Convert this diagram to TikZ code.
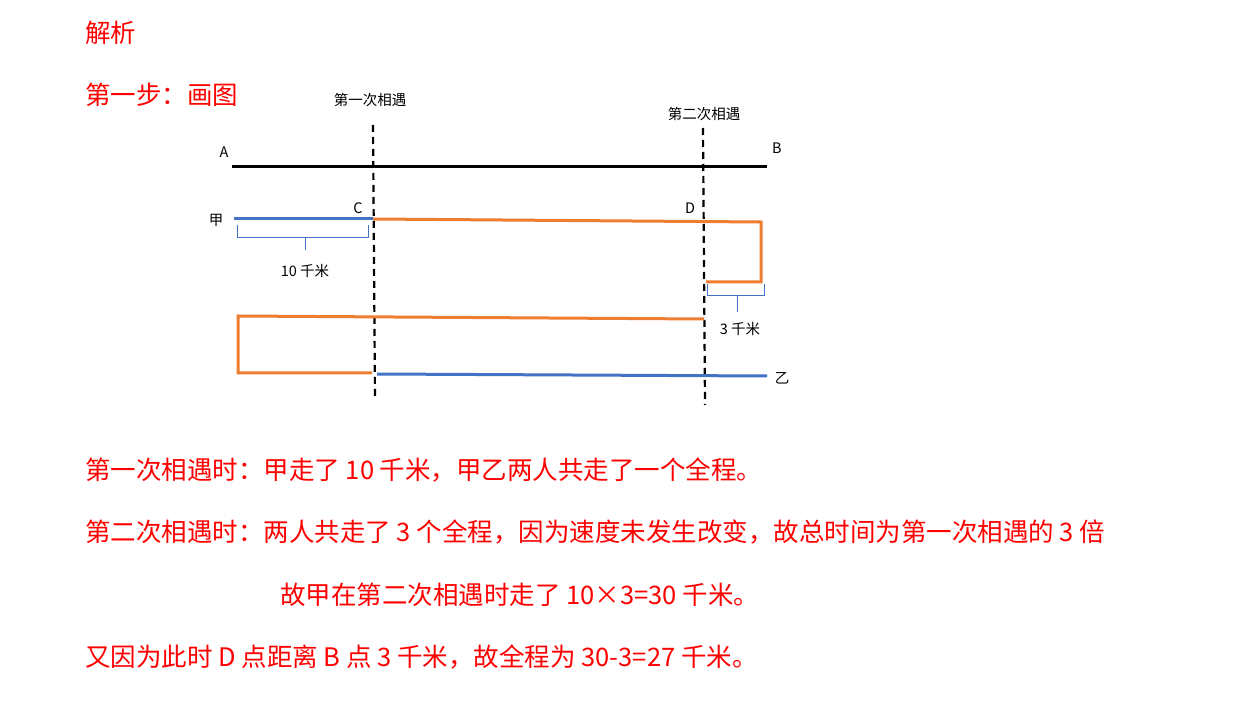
\documentclass[tikz,border=0pt]{standalone}
\usepackage{fontspec}
\setmainfont{Liberation Sans}
\newfontfamily\cjk{Noto Sans CJK SC}
\definecolor{myred}{RGB}{255,0,0}
\definecolor{myblue}{RGB}{68,114,196}
\definecolor{myorange}{RGB}{237,125,49}
\begin{document}
\begin{tikzpicture}[x=1pt,y=-1pt,
  redtxt/.style={text=myred,font=\cjk\fontsize{25.5}{28}\selectfont,anchor=west,inner sep=0pt},
  small/.style={font=\cjk\fontsize{14.5}{16}\selectfont,inner sep=0pt},
  dashln/.style={line width=2.2pt,dash pattern=on 7pt off 5pt},
  blueln/.style={myblue,line width=3pt},
  orln/.style={myorange,line width=3pt},
  brc/.style={myblue,line width=0.6pt}]
\useasboundingbox (0,0) rectangle (1234,708);
\node[redtxt] (t1) at (85,33) {解析};
\node[redtxt] (t2) at (85,95) {第一步：画图};
\node[small] (m1) at (370,100) {第一次相遇};
\node[small] (m2) at (704,114) {第二次相遇};
\coordinate (d1a) at (373,125); \coordinate (d1b) at (375,398);
\coordinate (d2a) at (703,128); \coordinate (d2b) at (705,405);
\draw[dashln] (d1a) -- (d1b);
\draw[dashln] (d2a) -- (d2b);
\node[small] (A) at (224,152) {A};
\node[small] (B) at (777,148) {B};
\coordinate (a) at (232,167); \coordinate (b) at (767,167);
\draw[line width=3pt] (a) -- (b);
\node[small] (jia) at (216,220) {甲};
\node[small] (C) at (358,208) {C};
\node[small] (D) at (690,208) {D};
\coordinate (p0) at (234,219); \coordinate (p1) at (373,219);
\draw[blueln] (p0) -- (p1);
\coordinate (p2) at (761,222); \coordinate (p3) at (761,282); \coordinate (p4) at (706,282);
\draw[orln,line join=miter] (p1) -- (p2) -- (p3) -- (p4);
\coordinate (q0) at (704,319); \coordinate (q1) at (238,316); \coordinate (q2) at (238,373); \coordinate (q3) at (372,373);
\draw[orln,line join=miter] (q0) -- (q1) -- (q2) -- (q3);
\coordinate (r0) at (377,374); \coordinate (r1) at (767,376);
\draw[blueln] (r0) -- (r1);
\node[small] (yi) at (782,378) {乙};
\coordinate (b1a) at (237,225); \coordinate (b1b) at (237,237); \coordinate (b1c) at (368,237); \coordinate (b1d) at (368,225);
\draw[brc] (b1a) -- (b1b) -- (b1c) -- (b1d);
\coordinate (b1m) at (305,237); \coordinate (b1e) at (305,250);
\draw[brc] (b1m) -- (b1e);
\node[small] (k10) at (305,271) {10 千米};
\coordinate (b2a) at (707,284); \coordinate (b2b) at (707,295); \coordinate (b2c) at (764,295); \coordinate (b2d) at (764,284);
\draw[brc] (b2a) -- (b2b) -- (b2c) -- (b2d);
\coordinate (b2m) at (737,295); \coordinate (b2e) at (737,312);
\draw[brc] (b2m) -- (b2e);
\node[small] (k3) at (740,329) {3 千米};
\node[redtxt] (l1) at (85,470) {第一次相遇时：甲走了 10 千米，甲乙两人共走了一个全程。};
\node[redtxt] (l2) at (85,532) {第二次相遇时：两人共走了 3 个全程，因为速度未发生改变，故总时间为第一次相遇的 3 倍};
\node[redtxt] (l3) at (280,595) {故甲在第二次相遇时走了 10×3=30 千米。};
\node[redtxt] (l4) at (85,657) {又因为此时 D 点距离 B 点 3 千米，故全程为 30-3=27 千米。};
\end{tikzpicture}
\end{document}
